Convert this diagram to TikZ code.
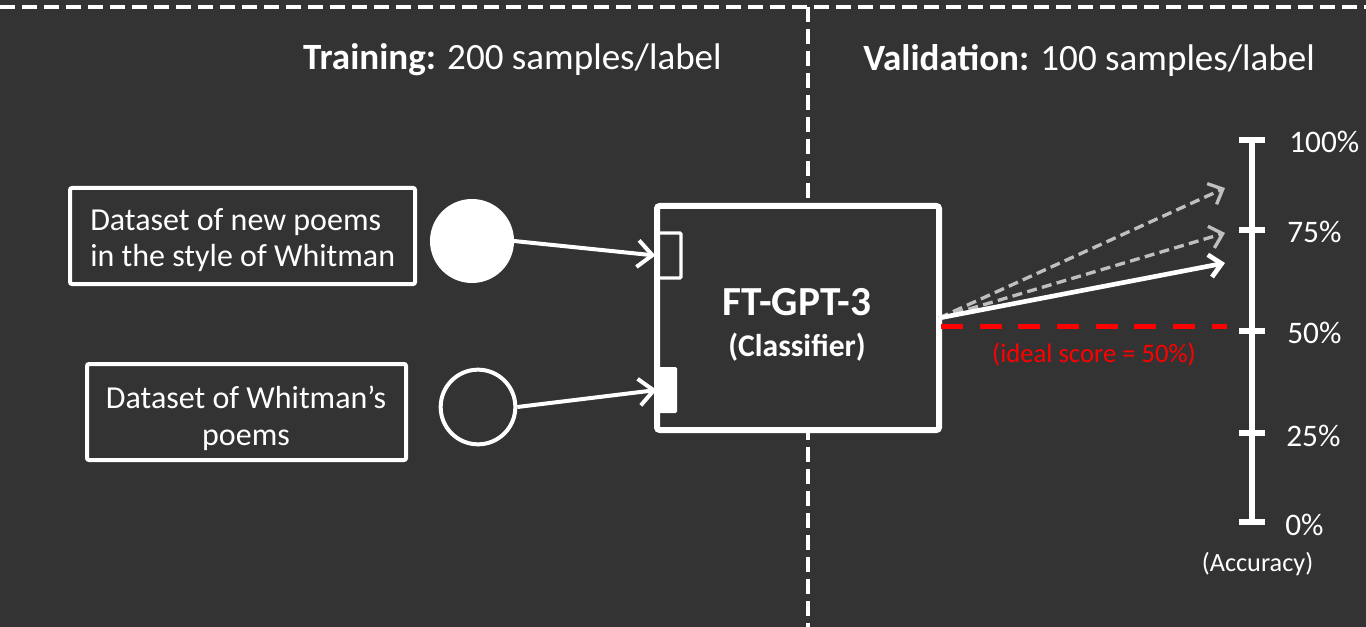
\documentclass[tikz,border=0pt]{standalone}
\usepackage{fontspec}
\setmainfont{Carlito}
\usetikzlibrary{arrows.meta,positioning,calc}
\definecolor{bgdark}{HTML}{333333}
\definecolor{arrgrey}{HTML}{BFBFBF}
\definecolor{idealred}{HTML}{FF0000}

\begin{document}
\begin{tikzpicture}[
    x=0.75pt, y=-0.75pt,
    every node/.style={text=white},
    divider/.style={white, line width=3pt, dash pattern=on 11.5pt off 5pt},
    head/.style={font=\fontsize{27.8}{32}\selectfont, inner sep=0pt},
    dsbox/.style={draw=white, line width=3pt, rounded corners=1.5pt, inner sep=0pt},
    dstext/.style={inner sep=0pt, font=\fontsize{24}{27.5}\selectfont},
    dot/.style={circle, draw=white, line width=3pt, inner sep=0pt},
    clfbox/.style={draw=white, line width=4.5pt, rounded corners=2pt, fill=bgdark, minimum width=211.5pt, minimum height=168pt},
    port/.style={draw=white, line width=2.5pt, rounded corners=1pt, inner sep=0pt, minimum width=18pt, minimum height=33.75pt},
    arr/.style={white, line width=3pt, -{Straight Barb[length=11pt, width=20pt]}},
    outarr/.style={white, line width=3.5pt, -{Straight Barb[length=9pt, width=17pt]}},
    guess/.style={arrgrey, line width=2.5pt, dash pattern=on 7.5pt off 4pt, -{Straight Barb[length=9pt, width=17pt]}},
    ideal/.style={idealred, line width=3.75pt, dash pattern=on 16.5pt off 12.5pt},
    scaleline/.style={white, line width=5pt},
    ticklab/.style={font=\fontsize{23.5}{26}\selectfont, anchor=west, inner sep=0pt}
  ]
    \useasboundingbox (0,0) rectangle (1366,627);
    \fill[bgdark] (0,0) rectangle (1366,627);

    % split between training and validation
    \draw[divider] (0,7) -- (1366,7);
    \draw[divider] (808,7) -- (808,627);
    \node[head, anchor=east] (trainhead) at (722,60) {\textbf{Training:} 200 samples/label};
    \node[head, anchor=west] (valhead) at (863,60) {\textbf{Validation:} 100 samples/label};

    % datasets
    \node[dsbox, minimum width=258.75pt, minimum height=72pt] (dsNew) at (242.5,236) {};
    \node[dstext, align=left, anchor=west] (dsNewText) at (90,240) {Dataset of new poems\\in the style of Whitman};
    \node[dsbox, minimum width=239.25pt, minimum height=72pt] (dsOrig) at (246.5,412) {};
    \node[dstext, align=center] (dsOrigText) at (246,418) {Dataset of Whitman’s\\poems};
    \node[dot, fill=white, minimum size=60pt] (dotNew) at (472,241) {};
    \node[dot, minimum size=56pt] (dotOrig) at (478,407) {};

    % classifier
    \node[clfbox] (clf) at (798,318) {};
    \node[port] (pNew) at (669,255.5) {};
    \node[fill=white, rounded corners=1pt, inner sep=0pt, minimum width=15pt, minimum height=34.5pt] (pOrig) at (667,390) {};
    \node[font=\fontsize{31}{34}\selectfont\bfseries, inner sep=0pt] (ftname) at (797,302) {FT-GPT-3};
    \node[font=\fontsize{23.7}{26}\selectfont\bfseries, inner sep=0pt] (ftrole) at (797,347.5) {(Classifier)};
    \draw[arr] (dotNew.east) -- (pNew.west);
    \draw[arr] (dotOrig.east) -- (pOrig.west);

    % accuracy scale
    \coordinate (t100) at (1252,140);
    \coordinate (t75) at (1252,230);
    \coordinate (t50) at (1252,331);
    \coordinate (t25) at (1252,433);
    \coordinate (t0) at (1252,522);
    \draw[scaleline] (t100) -- (t0);
    \draw[scaleline] ($(t100)+(-13,0)$) -- ($(t100)+(13,0)$);
    \draw[scaleline] ($(t75)+(-13,0)$) -- ($(t75)+(13,0)$);
    \draw[scaleline] ($(t50)+(-13,0)$) -- ($(t50)+(13,0)$);
    \draw[scaleline] ($(t25)+(-13,0)$) -- ($(t25)+(13,0)$);
    \draw[scaleline] ($(t0)+(-13,0)$) -- ($(t0)+(13,0)$);
    \node[ticklab] (l100) at ($(t100)+(37,2)$) {100\%};
    \node[ticklab] (l75) at ($(t75)+(35,2)$) {75\%};
    \node[ticklab] (l50) at ($(t50)+(35,2)$) {50\%};
    \node[ticklab] (l25) at ($(t25)+(34,3)$) {25\%};
    \node[ticklab] (l0) at ($(t0)+(33,3)$) {0\%};
    \node[font=\fontsize{19.7}{22}\selectfont, inner sep=0pt] (acc) at (1257.5,564) {(Accuracy)};

    % scores
    \coordinate (out) at (939,318);
    \coordinate (hitA) at (1225,188);
    \coordinate (hitB) at (1225,233);
    \coordinate (hitC) at (1225,263);
    \coordinate (idealIn) at (941,326);
    \coordinate (idealEnd) at (1227,326);
    \draw[guess] (out) -- (hitA);
    \draw[guess] (out) -- (hitB);
    \draw[outarr] (out) -- (hitC);
    \draw[ideal] (idealIn) -- (idealEnd);
    \node[font=\fontsize{20}{22}\selectfont, text=idealred, inner sep=0pt] (idealtext) at (1094,355) {(ideal score = 50\%)};
  \end{tikzpicture}
\end{document}
